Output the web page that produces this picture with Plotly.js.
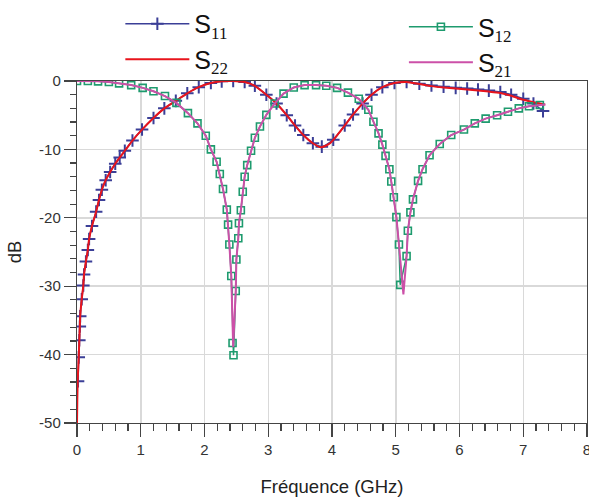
<!DOCTYPE html>
<html>
<head>
<meta charset="utf-8">
<script src="https://cdn.plot.ly/plotly-3.0.1.min.js"></script>
<style>
html,body{margin:0;padding:0;background:#fff;}
#chart{width:589px;height:500px;}
</style>
</head>
<body>
<div id="chart"></div>
<script>
// S11 (markers)
var s11Freq = [0.016,0.027,0.036,0.044,0.05,0.074,0.099,0.11,0.14,0.17,0.19,0.235,0.30,0.345,0.39,0.45,0.52,0.60,0.67,0.75,0.87,1.02,1.20,1.37,1.55,1.73,1.91,2.10,2.27,2.45,2.63,2.79,2.97,3.13,3.29,3.42,3.55,3.70,3.84,4.02,4.20,4.33,4.48,4.62,4.79,4.98,5.17,5.37,5.56,5.75,5.94,6.12,6.29,6.46,6.64,6.81,7.00,7.16,7.31];
var s11dB = [-43.9,-40.4,-37.9,-35.9,-34.4,-31.9,-29.9,-28.3,-26.4,-24.7,-23.1,-21.2,-19.1,-17.4,-15.9,-14.5,-13.3,-12.1,-11.2,-10.2,-8.7,-7.1,-5.4,-4.0,-2.9,-1.8,-0.9,-0.3,-0.05,0,-0.15,-0.7,-2.0,-3.3,-5.0,-6.5,-7.9,-9.1,-9.6,-8.6,-6.5,-4.9,-3.3,-2.0,-0.9,-0.3,-0.15,-0.4,-0.65,-0.85,-1.0,-1.1,-1.25,-1.4,-1.6,-2.0,-2.6,-3.3,-4.4];
// S22 (line)
var s22Freq = [0,0.005,0.012,0.027,0.036,0.044,0.05,0.074,0.099,0.11,0.14,0.17,0.19,0.235,0.30,0.345,0.39,0.45,0.52,0.60,0.67,0.75,0.87,1.02,1.20,1.37,1.55,1.73,1.91,2.10,2.27,2.45,2.63,2.79,2.97,3.13,3.29,3.42,3.55,3.70,3.83,3.97,4.10,4.20,4.33,4.48,4.62,4.79,4.98,5.17,5.37,5.56,5.75,5.94,6.12,6.29,6.46,6.64,6.81,7.00,7.16,7.34];
var s22dB = [-50,-46.5,-43.5,-40.4,-37.9,-35.9,-34.4,-31.9,-29.9,-28.3,-26.4,-24.7,-23.1,-21.2,-19.1,-17.4,-15.9,-14.5,-13.3,-12.1,-11.2,-10.2,-8.7,-7.1,-5.4,-4.0,-2.9,-1.8,-0.9,-0.3,-0.05,0,-0.15,-0.7,-2.0,-3.3,-5.0,-6.5,-7.9,-9.1,-9.7,-9.1,-7.7,-6.5,-4.9,-3.3,-2.0,-0.9,-0.3,-0.15,-0.45,-0.75,-0.95,-1.1,-1.25,-1.4,-1.55,-1.75,-2.15,-2.75,-3.1,-3.45];
// S12 (markers)
var s12Freq = [0,0.17,0.33,0.50,0.66,0.85,1.03,1.20,1.38,1.56,1.74,1.89,2.02,2.10,2.19,2.24,2.29,2.35,2.37,2.39,2.42,2.44,2.455,2.49,2.50,2.53,2.54,2.57,2.60,2.63,2.67,2.73,2.79,2.87,2.97,3.10,3.24,3.40,3.57,3.75,3.91,4.08,4.25,4.42,4.57,4.65,4.73,4.79,4.84,4.90,4.93,4.97,5.01,5.05,5.07,5.17,5.19,5.23,5.27,5.35,5.42,5.53,5.69,5.87,6.07,6.24,6.41,6.59,6.76,6.93,7.09,7.26];
var s12dB = [0,0,-0.05,-0.15,-0.35,-0.6,-1.0,-1.5,-2.2,-3.2,-4.7,-6.2,-8.0,-10.0,-11.8,-13.6,-15.8,-18.8,-21.0,-23.9,-28.5,-38.3,-40.1,-30.7,-26.1,-23.0,-20.8,-18.9,-16.2,-14.0,-12.3,-10.2,-8.3,-6.65,-4.95,-3.3,-1.85,-0.95,-0.6,-0.6,-0.7,-1.0,-1.7,-2.6,-4.2,-5.95,-7.65,-9.3,-10.95,-12.9,-14.7,-17.0,-19.9,-23.9,-29.8,-25.6,-21.9,-19.2,-17.3,-14.6,-12.9,-10.85,-9.2,-7.9,-7.1,-6.2,-5.5,-5.0,-4.5,-4.0,-3.7,-3.5];
// S21 (line)
var s21Freq = [0,0.17,0.33,0.50,0.66,0.85,1.03,1.20,1.38,1.56,1.74,1.89,2.02,2.10,2.19,2.24,2.29,2.35,2.37,2.39,2.42,2.45,2.49,2.50,2.53,2.54,2.57,2.60,2.63,2.67,2.73,2.79,2.87,2.97,3.10,3.24,3.40,3.57,3.75,3.91,4.08,4.25,4.42,4.57,4.65,4.73,4.79,4.84,4.90,4.93,4.97,5.01,5.05,5.08,5.12,5.17,5.19,5.23,5.27,5.35,5.42,5.53,5.69,5.87,6.07,6.24,6.41,6.59,6.76,6.93,7.09,7.26,7.35];
var s21dB = [0,0,-0.05,-0.15,-0.35,-0.6,-1.0,-1.5,-2.2,-3.2,-4.7,-6.2,-8.0,-10.0,-11.8,-13.6,-15.8,-18.8,-21.0,-23.9,-28.5,-38.9,-30.7,-26.1,-23.0,-20.8,-18.9,-16.2,-14.0,-12.3,-10.2,-8.3,-6.65,-4.95,-3.3,-1.85,-0.95,-0.6,-0.6,-0.7,-1.0,-1.7,-2.6,-4.2,-5.95,-7.65,-9.3,-10.95,-12.9,-14.7,-17.0,-19.9,-23.9,-27.5,-31.2,-25.6,-21.9,-19.2,-17.3,-14.6,-12.9,-10.85,-9.2,-7.9,-7.1,-6.2,-5.5,-5.0,-4.5,-4.0,-3.7,-3.5,-3.45];

var xTicks = [0,1,2,3,4,5,6,7,8];
var yTickVals = [0,-10,-20,-30,-40,-50];
var yTickText = ['0','-10','-20','-30','-40','-50'];

var sub = function(n){ return 'S<sub><span style="font-family:Liberation Serif;font-size:17px">' + n + '</span></sub>'; };

var traces = [
  {x:s11Freq, y:s11dB, name:sub('11'), mode:'lines+markers', legend:'legend',
   line:{color:'#3b3f97', width:1.5, shape:'spline', smoothing:0.6},
   marker:{symbol:'cross-thin-open', size:9, line:{color:'#3b3f97', width:2}}},
  {x:s22Freq, y:s22dB, name:sub('22'), mode:'lines', legend:'legend',
   line:{color:'#e8141c', width:2, shape:'spline', smoothing:0.6}},
  {x:s12Freq, y:s12dB, name:sub('12'), mode:'lines+markers', legend:'legend2',
   line:{color:'#1e9b6e', width:1.5},
   marker:{symbol:'square-open', size:7, line:{color:'#1e9b6e', width:1.6}}},
  {x:s21Freq, y:s21dB, name:sub('21'), mode:'lines', legend:'legend2',
   line:{color:'#cc50a8', width:2}}
];

var legendFont = {family:'Liberation Sans', size:25, color:'#111'};
var layout = {
  width:589, height:500,
  margin:{l:77, r:2, t:81, b:77, autoexpand:false},
  paper_bgcolor:'#fff', plot_bgcolor:'#fff',
  showlegend:true,
  font:{family:'Liberation Sans', color:'#333'},
  legend:{x:0.085, y:1.234, xanchor:'left', yanchor:'top', font:legendFont, itemwidth:64, bgcolor:'rgba(0,0,0,0)', borderwidth:0},
  legend2:{x:0.641, y:1.225, xanchor:'left', yanchor:'top', font:legendFont, itemwidth:64, bgcolor:'rgba(0,0,0,0)', borderwidth:0},
  xaxis:{
    range:[0,8], tickvals:xTicks, ticks:'outside', ticklen:13, tickwidth:1.2, tickcolor:'#444',
    ticklabeloverflow:'allow',
    showline:true, linecolor:'#444', linewidth:1.2, mirror:true,
    showgrid:true, gridcolor:'#d9d9d9', gridwidth:1.5, zeroline:false,
    tickfont:{size:15, color:'#333'},
    minor:{tickmode:'linear', tick0:0, dtick:0.2, ticks:'outside', ticklen:7, tickcolor:'#444', tickwidth:1.2, showgrid:false},
    title:{text:'Fréquence (GHz)', font:{size:18.5, color:'#222'}, standoff:22}
  },
  yaxis:{
    range:[-50,0], tickvals:yTickVals, ticktext:yTickText, ticks:'outside', ticklen:12, tickwidth:1.2, tickcolor:'#444',
    showline:true, linecolor:'#444', linewidth:1.2, mirror:true,
    showgrid:true, gridcolor:'#d9d9d9', gridwidth:1.5, zeroline:false,
    tickfont:{size:15, color:'#333'},
    minor:{tickmode:'linear', tick0:0, dtick:2, ticks:'outside', ticklen:6, tickcolor:'#444', tickwidth:1.2, showgrid:false},
    title:{text:'dB', font:{size:18.5, color:'#222'}, standoff:12}
  }
};

Plotly.newPlot('chart', traces, layout, {staticPlot:true, displayModeBar:false});
</script>
</body>
</html>
